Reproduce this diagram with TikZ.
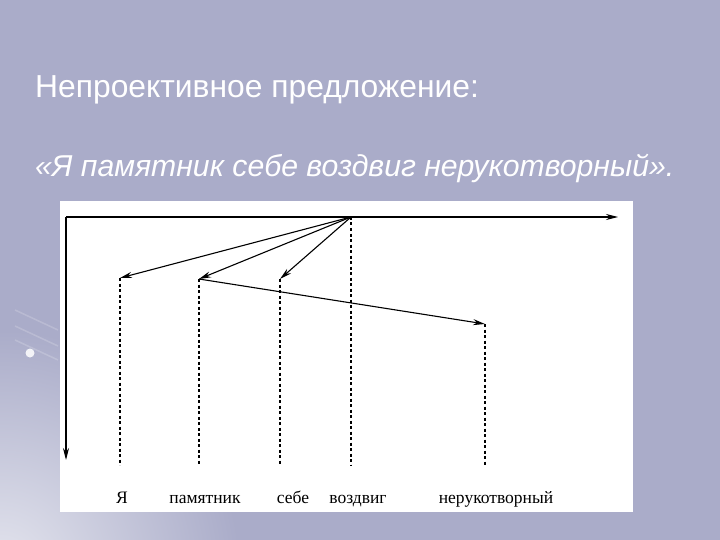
\documentclass[tikz,border=0pt]{standalone}
\usepackage{fontspec}
\setmainfont{Liberation Serif}
\newfontfamily\titlefont{Liberation Sans}
\usetikzlibrary{arrows.meta}
\definecolor{bg}{RGB}{170,172,201}
\definecolor{glow}{RGB}{228,229,238}
\tikzset{
  link/.style={line width=1.1pt, -{Stealth[length=12pt,width=6pt]}},
  guide/.style={line width=1.1pt, dash pattern=on 3pt off 2.5pt},
  word/.style={font=\fontsize{17.5}{20}\selectfont, anchor=base, inner sep=0pt},
  heading/.style={font=\titlefont\fontsize{31.8}{36}\selectfont, text=white, anchor=base west, inner sep=0pt}
}
\begin{document}
\begin{tikzpicture}[x=1pt,y=-1pt]
\useasboundingbox (0,0) rectangle (720,540);
\fill[bg] (0,0) rectangle (720,540);
\begin{scope}
\clip (0,0) rectangle (720,540);
\shade[inner color=glow, outer color=bg] (0,570) circle (240);
\end{scope}
% decorative streaks and dot
\foreach \y in {322,338,352} {
  \draw[white, opacity=0.18, line width=1.5pt] (15,\y-12) -- (58,\y+8);
}
\fill[white, opacity=0.85] (30,353) circle (4.5);
% panel
\fill[white] (60,201) rectangle (633,512);
% headings
\node[heading] (title) at (35,98) {Непроективное предложение:};
\node[heading, font=\titlefont\itshape\fontsize{30.2}{34}\selectfont] (sentence) at (35,177) {«Я памятник себе воздвиг нерукотворный».};
% axes
\coordinate (origin) at (66,217);
\coordinate (xend) at (618,217);
\coordinate (yend) at (66,460);
\draw[link] (origin) -- (xend);
\draw[link] (origin) -- (yend);
% word points
\coordinate (ya) at (120,278);
\coordinate (pam) at (199,279);
\coordinate (sebe) at (280,279);
\coordinate (voz) at (351,217);
\coordinate (ner) at (485,324);
% guides
\coordinate (yaB) at (120,465);
\coordinate (pamB) at (199,465);
\coordinate (sebeB) at (280,465);
\coordinate (vozB) at (351,465);
\coordinate (nerB) at (485,465);
\draw[guide] (ya) -- (yaB);
\draw[guide] (pam) -- (pamB);
\draw[guide] (sebe) -- (sebeB);
\draw[guide] (voz) -- (vozB);
\draw[guide] (ner) -- (nerB);
% dependency arcs
\draw[link] (voz) -- (ya);
\draw[link] (voz) -- (pam);
\draw[link] (voz) -- (sebe);
\draw[link] (pam) -- (ner);
% labels
\node[word] (lya) at (122,503) {Я};
\node[word] (lpam) at (205,503) {памятник};
\node[word] (lsebe) at (293,503) {себе};
\node[word] (lvoz) at (358,503) {воздвиг};
\node[word] (lner) at (496,503) {нерукотворный};
\end{tikzpicture}
\end{document}
